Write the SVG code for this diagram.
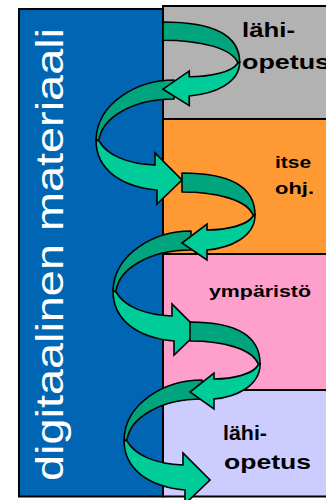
<svg xmlns="http://www.w3.org/2000/svg" width="326" height="500" viewBox="0 0 326 500">
<defs>
<style>
.box{stroke:#000;stroke-width:2}
.dk{fill:#00A57D;stroke:#000;stroke-width:1.6;stroke-linejoin:round}
.lt{fill:#00CC99;stroke:#000;stroke-width:1.6;stroke-linejoin:miter}
.lbl{font-family:"Liberation Sans",Arial,sans-serif;font-weight:bold;fill:#000}
.side{font-family:"Liberation Sans",Arial,sans-serif;fill:#fff}
</style>
<g id="rightLoop">
<path class="dk" d="M0,0 C45,0 73,12 73,42 L71,42 C65,27 35,19 0,19 Z"/>
<path class="lt" d="M71,43 C66,52 45,57 25,57 L25,51 L0,70 L25,87 L25,77 C48,75 73,64 73,42 Z"/>
</g>
<g id="leftLoop">
<path class="dk" d="M-8,2 C-45,2 -85,25 -86,62 L-83,62 C-80,40 -50,21 -8,21 Z"/>
<path class="lt" d="M-83,63 C-75,77 -55,86 -27,87 L-27,75 L0,102 L-25,126 L-25,112 C-60,109 -86,92 -86,62 Z"/>
</g>
</defs>
<rect width="326" height="500" fill="#fff"/>
<g id="panel">
<rect class="box" x="19" y="9" width="144" height="487.5" fill="#0066B3"/>
<text class="side" font-size="38" transform="translate(63,481) rotate(-90)" textLength="453" lengthAdjust="spacingAndGlyphs">digitaalinen materiaali</text>
</g>
<g id="box-lahiopetus-1">
<rect class="box" x="163" y="6" width="200" height="113" fill="#B2B2B2"/>
<text class="lbl" x="242" y="37" font-size="20" textLength="53" lengthAdjust="spacingAndGlyphs">lähi-</text>
<text class="lbl" x="242" y="69" font-size="21" textLength="88" lengthAdjust="spacingAndGlyphs">opetus</text>
</g>
<g id="box-itseohj">
<rect class="box" x="163" y="119" width="200" height="135" fill="#FF9933"/>
<text class="lbl" x="275" y="168" font-size="17" textLength="36" lengthAdjust="spacingAndGlyphs">itse</text>
<text class="lbl" x="275" y="194" font-size="17" textLength="39" lengthAdjust="spacingAndGlyphs">ohj.</text>
</g>
<g id="box-ymparisto">
<rect class="box" x="163" y="254" width="200" height="136" fill="#FF9FCB"/>
<text class="lbl" x="209" y="297" font-size="17" textLength="102" lengthAdjust="spacingAndGlyphs">ympäristö</text>
</g>
<g id="box-lahiopetus-2">
<rect class="box" x="163" y="390" width="200" height="106.5" fill="#CCCCFF"/>
<text class="lbl" x="223" y="440" font-size="21" textLength="44" lengthAdjust="spacingAndGlyphs">lähi-</text>
<text class="lbl" x="224" y="469" font-size="21" textLength="87" lengthAdjust="spacingAndGlyphs">opetus</text>
</g>
<g id="connectors">
<use href="#leftLoop" transform="translate(210,378)"/>
<use href="#leftLoop" transform="translate(199,229)"/>
<use href="#leftLoop" transform="translate(182,78)"/>
<use href="#rightLoop" transform="translate(190,322) scale(0.96,1)"/>
<use href="#rightLoop" transform="translate(182,173)"/>
<use href="#rightLoop" transform="translate(163,22) scale(1.05,0.96)"/>
</g>
</svg>
